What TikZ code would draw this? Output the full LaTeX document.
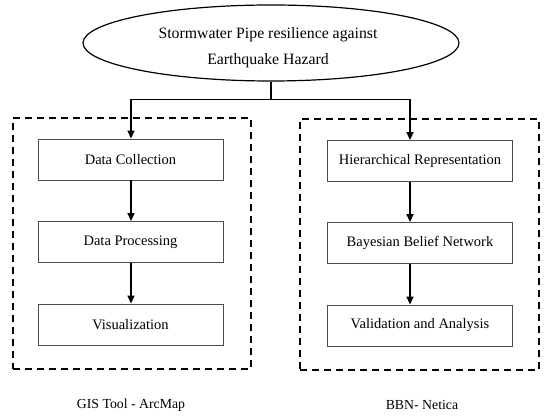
\documentclass[tikz,border=0pt]{standalone}
\usepackage{fontspec}
\setmainfont{Liberation Serif}
\usetikzlibrary{arrows.meta,shapes.geometric,calc}
\begin{document}
\begin{tikzpicture}[x=1pt,y=-1pt,
  txt/.style={font=\fontsize{13.8}{16}\selectfont, inner sep=0pt},
  ttl/.style={font=\fontsize{15.8}{18}\selectfont, inner sep=0pt},
  procbox/.style={draw=black!70, line width=0.9pt, minimum width=185pt, minimum height=41pt, inner sep=0pt, font=\fontsize{14.5}{17}\selectfont},
  dbox/.style={draw=black, line width=2.2pt, dash pattern=on 7pt off 5pt, inner sep=0pt},
  conn/.style={draw=black, line width=1.6pt},
  arr/.style={conn, -{Triangle[length=8pt,width=7pt]}}]
\useasboundingbox (0,0) rectangle (550,419);
% top ellipse
\node[draw, ellipse, line width=1.2pt, minimum width=376pt, minimum height=76pt, inner sep=0pt] (top) at (271,43) {};
\node[ttl] (t1) at (268,35) {Stormwater Pipe resilience against};
\node[ttl] (t2) at (268,61) {Earthquake Hazard};
% dashed groups
\node[dbox, minimum width=238pt, minimum height=251pt] (LG) at (132,243.5) {};
\node[dbox, minimum width=239pt, minimum height=251pt] (RG) at (419.5,244.5) {};
% boxes
\node[procbox] (L1) at (130.5,159.5) {Data Collection};
\node[procbox] (L2) at (130.5,242) {Data Processing};
\node[procbox] (L3) at (130.5,324.5) {Visualization};
\node[procbox] (R1) at (420,161) {Hierarchical Representation};
\node[procbox] (R2) at (420,243) {Bayesian Belief Network};
\node[procbox] (R3) at (420,325.5) {Validation and Analysis};
% labels
\node[txt] (gl) at (131,405) {GIS Tool - ArcMap};
\node[txt] (bl) at (422,405) {BBN- Netica};
% connectors
\coordinate (lj) at (131,99.5);
\coordinate (rj) at (410,99.5);
\draw[conn] (top.south) -- (top.south |- lj);
\draw[conn] (lj) -- (rj);
\draw[arr] (lj) -- (lj |- L1.north);
\draw[arr] (rj) -- (rj |- R1.north);
\draw[arr] (L1.south -| lj) -- (L2.north -| lj);
\draw[arr] (L2.south -| lj) -- (L3.north -| lj);
\draw[arr] (R1.south -| rj) -- (R2.north -| rj);
\draw[arr] (R2.south -| rj) -- (R3.north -| rj);
\end{tikzpicture}
\end{document}
